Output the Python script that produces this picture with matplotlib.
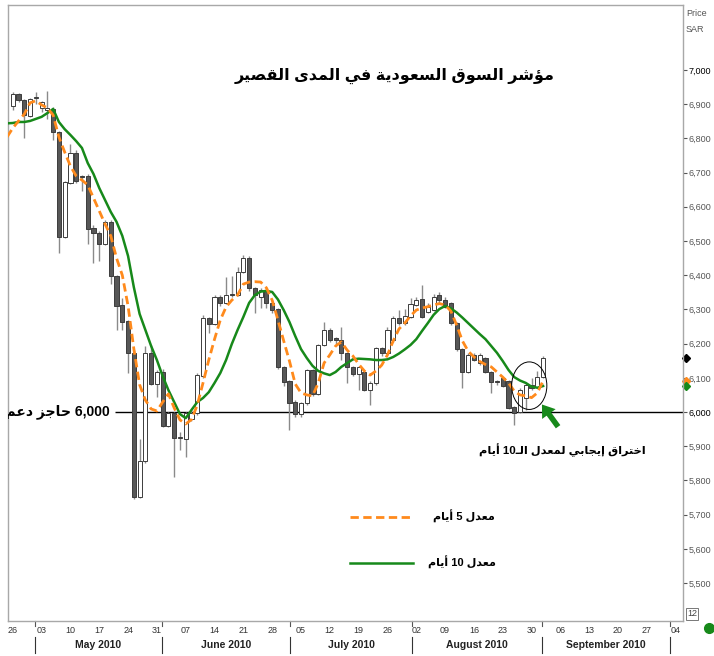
import re
import matplotlib
matplotlib.use("Agg")
import matplotlib.pyplot as plt
from matplotlib.patches import Ellipse
from matplotlib.transforms import blended_transform_factory

# daily candles of the Saudi index, one per trading day from 26 Apr 2010
opens = [6896, 6929, 6912, 6866, 6918, 6888, 6884, 6885, 6820, 6513,
         6670, 6758, 6688, 6690, 6538, 6524, 6490, 6556, 6398, 6313,
         6266, 6172, 5752, 5857, 6172, 6082, 6118, 5960, 5996, 5923,
         5920, 5981, 5996, 6105, 6274, 6257, 6335, 6318, 6345, 6342,
         6410, 6449, 6362, 6337, 6357, 6318, 6300, 6132, 6091, 6030,
         5994, 6025, 6123, 6053, 6196, 6240, 6214, 6212, 6172, 6131,
         6111, 6117, 6064, 6086, 6186, 6172, 6210, 6274, 6259, 6279,
         6313, 6330, 6293, 6298, 6342, 6327, 6318, 6259, 6184, 6118,
         6167, 6142, 6157, 6118, 6091, 6098, 6090, 6016, 6001, 6040,
         6079, 6074, 6103]
highs = [6935, 6932, 6915, 6918, 6935, 6910, 6939, 6892, 6822, 6676,
         6783, 6765, 6692, 6695, 6547, 6530, 6560, 6560, 6400, 6333,
         6270, 6180, 5921, 6193, 6196, 6123, 6125, 6000, 6000, 5942,
         6000, 6005, 6115, 6284, 6279, 6342, 6342, 6394, 6397, 6425,
         6459, 6455, 6365, 6362, 6360, 6322, 6305, 6135, 6095, 6035,
         6030, 6126, 6126, 6200, 6264, 6245, 6218, 6249, 6175, 6135,
         6135, 6120, 6090, 6190, 6190, 6248, 6280, 6298, 6300, 6332,
         6335, 6371, 6318, 6345, 6350, 6335, 6322, 6262, 6186, 6172,
         6172, 6172, 6162, 6120, 6095, 6103, 6095, 6018, 6070, 6085,
         6100, 6120, 6165]
lows = [6883, 6905, 6802, 6863, 6900, 6878, 6858, 6795, 6465, 6510,
        6667, 6670, 6645, 6490, 6436, 6441, 6487, 6374, 6240, 6240,
        6113, 5746, 5748, 5850, 6078, 6045, 5955, 5955, 5811, 5889,
        5869, 5975, 5990, 6100, 6231, 6255, 6310, 6315, 6335, 6338,
        6405, 6355, 6290, 6304, 6303, 6290, 6125, 6076, 5947, 5986,
        5986, 6020, 6048, 6050, 6192, 6205, 6200, 6152, 6084, 6105,
        6064, 6060, 6020, 6080, 6165, 6168, 6205, 6255, 6255, 6275,
        6310, 6275, 6290, 6295, 6320, 6305, 6255, 6178, 6069, 6115,
        6148, 6138, 6115, 6055, 6080, 6072, 6008, 5962, 5998, 6005,
        6064, 6070, 6100]
closes = [6929, 6912, 6868, 6915, 6922, 6907, 6888, 6820, 6513, 6673,
          6757, 6675, 6686, 6535, 6523, 6490, 6556, 6398, 6310, 6264,
          6172, 5752, 5857, 6172, 6082, 6118, 5960, 5996, 5923, 5925,
          5996, 5996, 6108, 6274, 6257, 6335, 6318, 6342, 6342, 6410,
          6449, 6362, 6342, 6357, 6318, 6298, 6131, 6089, 6025, 5994,
          6025, 6123, 6053, 6196, 6240, 6212, 6212, 6172, 6131, 6111,
          6131, 6064, 6086, 6186, 6172, 6240, 6274, 6261, 6281, 6316,
          6327, 6279, 6307, 6337, 6327, 6308, 6259, 6184, 6118, 6167,
          6152, 6167, 6118, 6089, 6089, 6077, 6012, 5996, 6064, 6079,
          6069, 6103, 6157]

# moving averages as drawn, starting one day before the first candle
ma5 = [6804, 6830, 6851, 6871, 6904, 6910, 6898, 6889, 6868, 6804,
       6760, 6719, 6690, 6678, 6664, 6626, 6588, 6550, 6515, 6450,
       6400, 6310, 6185, 6080, 6035, 6009, 6003, 6029, 6053, 6012,
       5977, 5965, 5978, 6020, 6085, 6152, 6213, 6269, 6307, 6327,
       6342, 6374, 6380, 6381, 6380, 6363, 6327, 6269, 6208, 6149,
       6082, 6056, 6050, 6047, 6085, 6143, 6167, 6193, 6205, 6181,
       6164, 6140, 6120, 6108, 6120, 6137, 6167, 6208, 6243, 6260,
       6281, 6298, 6304, 6308, 6313, 6317, 6313, 6295, 6254, 6208,
       6178, 6161, 6148, 6139, 6132, 6117, 6102, 6085, 6061, 6050,
       6047, 6042, 6056, 6091]
ma10 = [6844, 6845, 6848, 6848, 6851, 6857, 6863, 6874, 6886, 6848,
        6827, 6810, 6792, 6772, 6728, 6696, 6655, 6620, 6585, 6556,
        6515, 6456, 6365, 6287, 6240, 6193, 6152, 6105, 6064, 6029,
        5994, 5982, 6006, 6029, 6041, 6058, 6085, 6114, 6152, 6199,
        6240, 6278, 6319, 6342, 6352, 6354, 6351, 6329, 6298, 6263,
        6222, 6184, 6158, 6135, 6120, 6113, 6108, 6117, 6132, 6143,
        6154, 6156, 6155, 6154, 6152, 6152, 6154, 6161, 6171, 6183,
        6196, 6213, 6237, 6260, 6284, 6301, 6310, 6303, 6291, 6276,
        6260, 6244, 6228, 6213, 6193, 6173, 6149, 6123, 6102, 6092,
        6085, 6074, 6071, 6076]

week_labels = ['26', '03', '10', '17', '24', '31', '07', '14', '21', '28', '05', '12',
               '19', '26', '02', '09', '16', '23', '30', '06', '13', '20', '27', '04']
months = ['May 2010', 'June 2010', 'July 2010', 'August 2010', 'September 2010']
month_edges = [3.9, 25.8, 48.1, 69.3, 91.8, 114.0]
price_ticks = list(range(5500, 7001, 100))
support = 6000

title = 'مؤشر السوق السعودية في المدى القصير'
support_text = '6,000 حاجز دعم نفسي'
note_text = 'اختراق إيجابي لمعدل الـ10 أيام'
label_ma5 = 'معدل 5 أيام'
label_ma10 = 'معدل 10 أيام'

# matplotlib does no arabic shaping, so pick the joined glyph forms by hand
AR = {
    '\u0623': ('\uFE83', '\uFE84', None, None),
    '\u0624': ('\uFE85', '\uFE86', None, None),
    '\u0625': ('\uFE87', '\uFE88', None, None),
    '\u0627': ('\uFE8D', '\uFE8E', None, None),
    '\u0628': ('\uFE8F', '\uFE90', '\uFE91', '\uFE92'),
    '\u0629': ('\uFE93', '\uFE94', None, None),
    '\u062A': ('\uFE95', '\uFE96', '\uFE97', '\uFE98'),
    '\u062C': ('\uFE9D', '\uFE9E', '\uFE9F', '\uFEA0'),
    '\u062D': ('\uFEA1', '\uFEA2', '\uFEA3', '\uFEA4'),
    '\u062E': ('\uFEA5', '\uFEA6', '\uFEA7', '\uFEA8'),
    '\u062F': ('\uFEA9', '\uFEAA', None, None),
    '\u0631': ('\uFEAD', '\uFEAE', None, None),
    '\u0632': ('\uFEAF', '\uFEB0', None, None),
    '\u0633': ('\uFEB1', '\uFEB2', '\uFEB3', '\uFEB4'),
    '\u0634': ('\uFEB5', '\uFEB6', '\uFEB7', '\uFEB8'),
    '\u0635': ('\uFEB9', '\uFEBA', '\uFEBB', '\uFEBC'),
    '\u0637': ('\uFEC1', '\uFEC2', '\uFEC3', '\uFEC4'),
    '\u0639': ('\uFEC9', '\uFECA', '\uFECB', '\uFECC'),
    '\u0641': ('\uFED1', '\uFED2', '\uFED3', '\uFED4'),
    '\u0642': ('\uFED5', '\uFED6', '\uFED7', '\uFED8'),
    '\u0644': ('\uFEDD', '\uFEDE', '\uFEDF', '\uFEE0'),
    '\u0645': ('\uFEE1', '\uFEE2', '\uFEE3', '\uFEE4'),
    '\u0646': ('\uFEE5', '\uFEE6', '\uFEE7', '\uFEE8'),
    '\u0648': ('\uFEED', '\uFEEE', None, None),
    '\u0649': ('\uFEEF', '\uFEF0', None, None),
    '\u064A': ('\uFEF1', '\uFEF2', '\uFEF3', '\uFEF4'),
    '\u0640': ('\u0640', '\u0640', '\u0640', '\u0640'),
}


def ar(text):
    out = []
    for k, ch in enumerate(text):
        f = AR.get(ch)
        if f is None:
            out.append(ch)
            continue
        prev = AR.get(text[k - 1]) if k > 0 else None
        nxt = AR.get(text[k + 1]) if k + 1 < len(text) else None
        jp = prev is not None and prev[2] is not None and f[1] is not None
        jn = f[2] is not None and nxt is not None and nxt[1] is not None
        if jp and jn:
            out.append(f[3])
        elif jp:
            out.append(f[1])
        elif jn:
            out.append(f[2])
        else:
            out.append(f[0])
    vis = ''.join(out)[::-1]
    return re.sub(r'[0-9A-Za-z.,]+', lambda m: m.group(0)[::-1], vis)


NARROW = ['Liberation Sans Narrow', 'Liberation Sans', 'DejaVu Sans']
BOLD = ['Liberation Sans', 'DejaVu Sans']
ORANGE = '#ff8a1c'
GREEN = '#17891a'

fig = plt.figure(figsize=(7.14, 6.56), dpi=100)
ax = fig.add_axes([8 / 714, 35 / 656, 675 / 714, 616 / 656])

x = list(range(len(closes)))
ax.vlines(x, lows, highs, color='#8a8a8a', lw=1, zorder=2)
bottoms = [min(o, c) for o, c in zip(opens, closes)]
heights = [max(abs(c - o), 3) for o, c in zip(opens, closes)]
fills = ['white' if c >= o else '#575757' for o, c in zip(opens, closes)]
ax.bar(x, heights, bottom=bottoms, width=0.72, color=fills,
       edgecolor='#3c3c3c', linewidth=0.7, zorder=3)

ma_x = list(range(-1, len(closes)))
ax.plot(ma_x, ma10, color=GREEN, lw=1.8, zorder=4)
ax.plot(ma_x, ma5, color=ORANGE, lw=2, dashes=(3, 1.6), zorder=5)

ax.hlines(support, 17.7, 117, color='black', lw=1, zorder=1)
ax.text(0.1511, support, ar(support_text), transform=blended_transform_factory(ax.transAxes, ax.transData),
        ha='right', va='center', fontsize=10, fontweight='bold', family=BOLD, clip_on=True)

ax.add_patch(Ellipse((89.6, 6077), 6.1, 139, fill=False, ec='black', lw=0.7, zorder=6))
ax.annotate('', xy=(91.8, 6022), xytext=(94.6, 5957),
            arrowprops=dict(arrowstyle='simple,head_length=0.85,head_width=1.2,tail_width=0.4',
                            color=GREEN, lw=0, shrinkA=0, shrinkB=0), zorder=7)

ax.text(0.5733, 0.8847, ar(title), transform=ax.transAxes, ha='center', va='center',
        fontsize=11.5, fontweight='bold', family=BOLD)
ax.text(0.8207, 0.2776, ar(note_text), transform=ax.transAxes, ha='center', va='center',
        fontsize=8.2, fontweight='bold', family=BOLD)

# hand drawn legend
ax.plot([0.5067, 0.6], [0.1688, 0.1688], transform=ax.transAxes, color=ORANGE, lw=2, dashes=(3, 1.6))
ax.plot([0.5067, 0.6], [0.0942, 0.0942], transform=ax.transAxes, color=GREEN, lw=1.8)
ax.text(0.6756, 0.1705, ar(label_ma5), transform=ax.transAxes, ha='center', va='center',
        fontsize=8, fontweight='bold', family=BOLD)
ax.text(0.6726, 0.0958, ar(label_ma10), transform=ax.transAxes, ha='center', va='center',
        fontsize=8, fontweight='bold', family=BOLD)

ax.set_xlim(-0.83, 116.27)
ax.set_ylim(5389, 7190)

ax.yaxis.tick_right()
ax.set_yticks(price_ticks)
ax.set_yticklabels([f'{v:,}' for v in price_ticks])
ax.tick_params(axis='y', direction='out', length=3, width=0.8, color='#555555', pad=1,
               labelsize=6.5, labelcolor='#555555')
for lab, v in zip(ax.get_yticklabels(), price_ticks):
    lab.set_family(NARROW)
    if v % 1000 == 0:
        lab.set_color('black')

ax.set_xticks(range(0, 5 * len(week_labels), 5))
ax.set_xticklabels(week_labels)
ax.tick_params(axis='x', length=0, pad=3.5, labelsize=6.5, labelcolor='#333333')
for lab in ax.get_xticklabels():
    lab.set_family(NARROW)

for s in ax.spines.values():
    s.set_color('#a8a8a8')
    s.set_linewidth(1)

bt = blended_transform_factory(ax.transData, ax.transAxes)
for e in month_edges:
    ax.plot([e, e], [-0.026, -0.052], transform=bt, color='#333333', lw=0.8, clip_on=False)
    ax.plot([e, e], [0, -0.008], transform=bt, color='#555555', lw=0.8, clip_on=False)
for name, a, b in zip(months, month_edges[:-1], month_edges[1:]):
    ax.text((a + b) / 2, -0.039, name, transform=bt, ha='center', va='center',
            fontsize=7.5, fontweight='bold', family=NARROW, color='#222222')

# last values marked on the price scale
rt = blended_transform_factory(ax.transAxes, ax.transData)
ax.plot([1.0045], [closes[-1]], 'D', color='black', ms=4, transform=rt, clip_on=False)
ax.plot([1.0045], [ma5[-1]], 'D', color=ORANGE, ms=4, transform=rt, clip_on=False)
ax.plot([1.0045], [ma10[-1]], 'D', color=GREEN, ms=4, transform=rt, clip_on=False)

fig.text(686 / 714, 1 - 13 / 656, 'Price', fontsize=6.5, family=NARROW, color='#555555', va='center')
fig.text(686 / 714, 1 - 29 / 656, 'SAR', fontsize=6.5, family=NARROW, color='#555555', va='center')
fig.text(692 / 714, 1 - 614 / 656, '12', fontsize=6.5, family=NARROW, color='#444444',
         ha='center', va='center', bbox=dict(boxstyle='square,pad=0.15', fc='white', ec='#777777', lw=0.7))
ax.plot([709 / 714], [1 - 628 / 656], 'o', color=GREEN, ms=7, transform=fig.transFigure, clip_on=False)

fig.savefig('out.png', dpi=100, facecolor='white')
